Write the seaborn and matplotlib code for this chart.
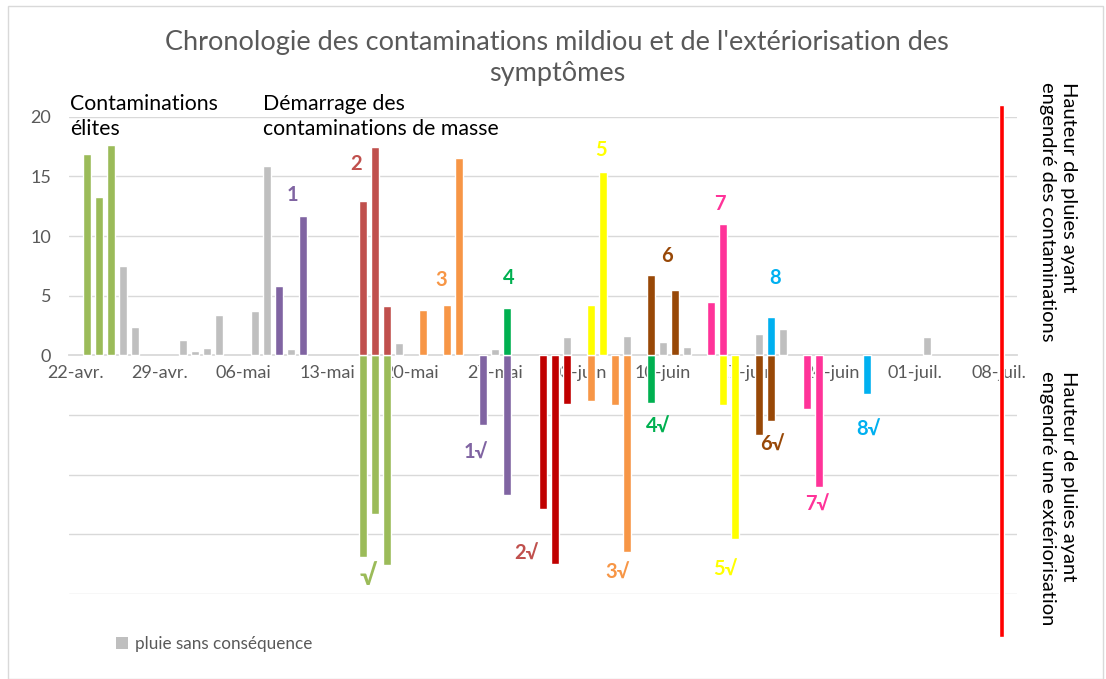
import matplotlib
matplotlib.use("Agg")
import matplotlib.pyplot as plt
import seaborn as sns
import pandas as pd
from matplotlib.patches import Rectangle, Patch

# ---------------- data ----------------
axis_start = "2018-04-22"

# rain with no consequence (mm)
pluie_dates = ["04-26", "04-27", "05-01", "05-02", "05-03", "05-04", "05-07", "05-08",
               "05-10", "05-19", "05-27", "06-02", "06-07", "06-10", "06-12", "06-18",
               "06-20", "07-02"]
pluie_values = [7.5, 2.4, 1.3, 0.4, 0.6, 3.4, 3.7, 15.9,
                0.5, 1.0, 0.5, 1.5, 1.6, 1.1, 0.7, 1.8,
                2.2, 1.5]

# contaminating rains (positive) and the matching exteriorisation (negative)
elite_dates = ["04-23", "04-24", "04-25"]
elite_rain = [16.9, 13.3, 17.6]
elite_ext_dates = ["05-16", "05-17", "05-18"]
elite_ext = [-16.9, -13.3, -17.6]

c1_dates = ["05-09", "05-11"]
c1_rain = [5.8, 11.7]
c1_ext_dates = ["05-26", "05-28"]
c1_ext = [-5.8, -11.7]

c2_dates = ["05-16", "05-17", "05-18"]
c2_rain = [12.9, 17.5, 4.1]
c2_ext_dates = ["05-31", "06-01", "06-02"]
c2_ext = [-12.9, -17.5, -4.1]

c3_dates = ["05-21", "05-23", "05-24"]
c3_rain = [3.8, 4.2, 16.5]
c3_ext_dates = ["06-04", "06-06", "06-07"]
c3_ext = [-3.8, -4.2, -16.5]

c4_dates = ["05-28"]
c4_rain = [4.0]
c4_ext_dates = ["06-09"]
c4_ext = [-4.0]

c5_dates = ["06-04", "06-05"]
c5_rain = [4.2, 15.4]
c5_ext_dates = ["06-15", "06-16"]
c5_ext = [-4.2, -15.4]

c6_dates = ["06-09", "06-11"]
c6_rain = [6.7, 5.5]
c6_ext_dates = ["06-18", "06-19"]
c6_ext = [-6.7, -5.5]

c7_dates = ["06-14", "06-15"]
c7_rain = [4.5, 11.0]
c7_ext_dates = ["06-22", "06-23"]
c7_ext = [-4.5, -11.0]

c8_dates = ["06-19"]
c8_rain = [3.2]
c8_ext_dates = ["06-27"]
c8_ext = [-3.2]

# separator line
sep_date = "07-08"
sep_top = 21.0
sep_bottom = -23.6

x_tick_labels = ["22-avr.", "29-avr.", "06-mai", "13-mai", "20-mai", "27-mai",
                 "03-juin", "10-juin", "17-juin", "24-juin", "01-juil.", "08-juil."]
y_ticks = [-20, -15, -10, -5, 0, 5, 10, 15, 20]
y_tick_labels = ["", "", "", "", "0", "5", "10", "15", "20"]

title = "Chronologie des contaminations mildiou et de l'extériorisation des\nsymptômes"

colors = {
    "pluie": "#BFBFBF", "élites": "#9BBB59", "c1": "#8064A2", "c2": "#C0504D",
    "c2ext": "#C00000", "c3": "#F79646", "c4": "#00B050", "c5": "#FFFF00",
    "c6": "#984807", "c7": "#FF3399", "c8": "#00B0F0",
}

# ---------------- build table ----------------
start = pd.Timestamp(axis_start)


def days(md_list):
    return [(pd.Timestamp(f"2018-{md}") - start).days for md in md_list]


series = [
    ("pluie", pluie_dates, pluie_values),
    ("élites", elite_dates, elite_rain), ("élites", elite_ext_dates, elite_ext),
    ("c1", c1_dates, c1_rain), ("c1", c1_ext_dates, c1_ext),
    ("c2", c2_dates, c2_rain), ("c2ext", c2_ext_dates, c2_ext),
    ("c3", c3_dates, c3_rain), ("c3", c3_ext_dates, c3_ext),
    ("c4", c4_dates, c4_rain), ("c4", c4_ext_dates, c4_ext),
    ("c5", c5_dates, c5_rain), ("c5", c5_ext_dates, c5_ext),
    ("c6", c6_dates, c6_rain), ("c6", c6_ext_dates, c6_ext),
    ("c7", c7_dates, c7_rain), ("c7", c7_ext_dates, c7_ext),
    ("c8", c8_dates, c8_rain), ("c8", c8_ext_dates, c8_ext),
]
rows = []
for name, d, v in series:
    for dd, vv in zip(days(d), v):
        rows.append({"jour": dd, "pluie": vv, "serie": name})
df = pd.DataFrame(rows)

# ---------------- figure ----------------
sns.set_theme(style="white")
plt.rcParams["font.family"] = ["Lato", "DejaVu Sans"]

fig = plt.figure(figsize=(11.06, 6.79), dpi=100)
fig.patches.append(Rectangle((8 / 1106, 0), 1095 / 1106, 673 / 679, transform=fig.transFigure,
                             fill=False, edgecolor="#D9D9D9", linewidth=1.0))
ax = fig.add_axes([0.0627, 0.1252, 0.8568, 0.7029])
ax.set_axisbelow(True)

sns.barplot(data=df, x="jour", y="pluie", hue="serie", palette=colors,
            native_scale=True, dodge=False, width=0.67, errorbar=None,
            legend=False, ax=ax, saturation=1, zorder=3)

# separator red line
sep_day = days([sep_date])[0]
ax.bar([sep_day + 0.2], [sep_top - sep_bottom], bottom=sep_bottom, width=0.45,
       color="#FF0000", clip_on=False, zorder=4)

ax.set_xlim(-0.5, 78.5)
ax.set_ylim(-20, 20)

# grid
ax.set_yticks(y_ticks)
ax.set_yticklabels(y_tick_labels)
for yv in y_ticks:
    if yv != 0:
        ax.axhline(yv, color="#D9D9D9", linewidth=1.0, zorder=0)

for s in ["top", "right", "left"]:
    ax.spines[s].set_visible(False)
ax.spines["bottom"].set_position(("data", 0))
ax.spines["bottom"].set_color("#D9D9D9")
ax.spines["bottom"].set_linewidth(1.3)
ax.spines["bottom"].set_zorder(1)

n_weeks = len(x_tick_labels)
major = [7 * k - 0.5 for k in range(n_weeks)]
minor = [7 * k for k in range(n_weeks)]
ax.set_xticks(major)
ax.set_xticklabels([""] * n_weeks)
ax.set_xticks(minor, minor=True)
ax.set_xticklabels(x_tick_labels, minor=True)
ax.tick_params(axis="x", which="major", length=5, color="#D9D9D9", width=1, direction="out")
ax.tick_params(axis="x", which="minor", length=0, pad=7, labelsize=13, labelcolor="#595959")
ax.tick_params(axis="y", length=0, pad=13, labelsize=13, labelcolor="#595959")
ax.set_xlabel("")
ax.set_ylabel("")

# labels of contamination events
lab_fs = 14.5
top_labels = [("1", 18.1, 13.4, "c1"), ("2", 23.4, 16.0, "c2"), ("3", 30.5, 6.3, "c3"),
              ("4", 36.1, 6.5, "c4"), ("5", 43.8, 17.2, "c5"), ("6", 49.3, 8.3, "c6"),
              ("7", 53.7, 12.7, "c7"), ("8", 58.3, 6.5, "c8")]
for t, x, y, c in top_labels:
    ax.text(x, y, t, color=colors[c], fontsize=lab_fs, fontweight="bold",
            ha="center", va="center", zorder=6)

bottom_labels = [("1√", 33.4, -8.2, "c1"), ("2√", 37.6, -16.6, "c2"), ("3√", 45.2, -18.2, "c3"),
                 ("4√", 48.6, -6.0, "c4"), ("5√", 54.2, -18.0, "c5"), ("6√", 58.1, -7.5, "c6"),
                 ("7√", 61.8, -12.5, "c7"), ("8√", 66.1, -6.2, "c8")]
for t, x, y, c in bottom_labels:
    ax.text(x, y, t, color=colors[c], fontsize=lab_fs, fontweight="bold",
            ha="center", va="center", zorder=6, clip_on=False)
ax.text(24.4, -18.6, "√", color=colors["élites"], fontsize=20, fontweight="bold",
        ha="center", va="center", zorder=6, clip_on=False)

# annotations
ann_fs = 15.3
fig.text(70 / 1106, 1 - 94 / 679, "Contaminations\nélites", fontsize=ann_fs, color="black",
         ha="left", va="top", linespacing=1.3)
fig.text(263 / 1106, 1 - 94 / 679, "Démarrage des\ncontaminations de masse", fontsize=ann_fs,
         color="black", ha="left", va="top", linespacing=1.3)

fig.text(557 / 1106, 1 - 58 / 679, title, fontsize=19.5, color="#595959",
         ha="center", va="center", linespacing=1.3)

fig.text(1058 / 1106, 1 - 212 / 679, "Hauteur de pluies ayant\nengendré des contaminations",
         rotation=270, fontsize=14.5, color="black", ha="center", va="center",
         linespacing=1.3, multialignment="left")
fig.text(1058 / 1106, 1 - 498 / 679, "Hauteur de pluies ayant\nengendré une extériorisation",
         rotation=270, fontsize=14.5, color="black", ha="center", va="center",
         linespacing=1.3, multialignment="left")

# legend
fig.legend(handles=[Patch(facecolor=colors["pluie"], edgecolor="none")],
           labels=["pluie sans conséquence"], loc="center left",
           bbox_to_anchor=(101 / 1106, 1 - 644 / 679), frameon=False,
           fontsize=12.3, labelcolor="#595959", handlelength=0.7, handleheight=0.7,
           handletextpad=0.4)

fig.savefig("out.png", dpi=100)
